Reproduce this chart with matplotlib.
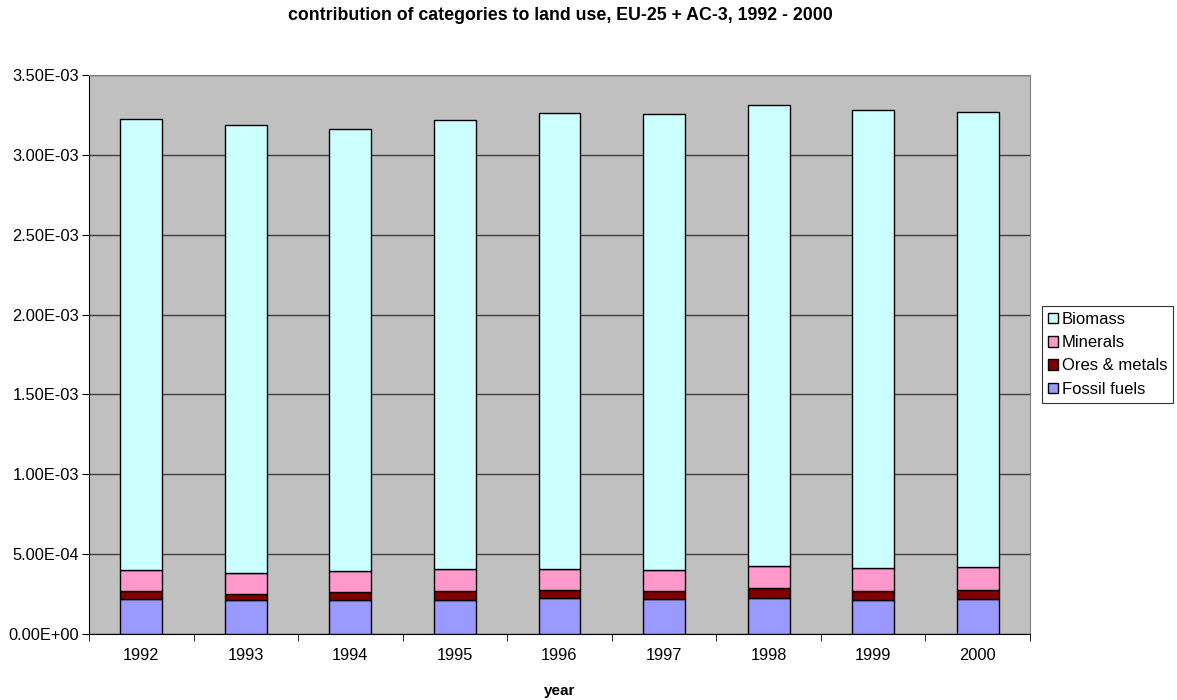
import matplotlib.pyplot as plt
import numpy as np
from matplotlib.ticker import FuncFormatter, MultipleLocator

plt.rcParams['font.family'] = ['Liberation Sans', 'DejaVu Sans']

years = ['1992', '1993', '1994', '1995', '1996', '1997', '1998', '1999', '2000']
fossil = [2.17e-4, 2.11e-4, 2.11e-4, 2.13e-4, 2.25e-4, 2.17e-4, 2.23e-4, 2.13e-4, 2.17e-4]
ores = [0.50e-4, 0.41e-4, 0.50e-4, 0.56e-4, 0.53e-4, 0.52e-4, 0.63e-4, 0.56e-4, 0.58e-4]
minerals = [1.32e-4, 1.28e-4, 1.35e-4, 1.36e-4, 1.29e-4, 1.32e-4, 1.40e-4, 1.44e-4, 1.46e-4]
biomass = [2.826e-3, 2.807e-3, 2.766e-3, 2.815e-3, 2.857e-3, 2.855e-3, 2.886e-3, 2.870e-3, 2.847e-3]

series = [('Fossil fuels', fossil, '#9999FF'),
          ('Ores & metals', ores, '#800000'),
          ('Minerals', minerals, '#FF99CC'),
          ('Biomass', biomass, '#CCFFFF')]

fig = plt.figure(figsize=(11.77, 7.0), dpi=100)
ax = fig.add_axes([89/1177, 1 - 634/700, (1030 - 89)/1177, (634 - 75)/700])
ax.set_facecolor('#C0C0C0')

x = np.arange(len(years))
bottom = np.zeros(len(years))
handles = {}
for name, vals, col in series:
    b = ax.bar(x, vals, 0.4, bottom=bottom, color=col, edgecolor='black',
               linewidth=1.0, label=name, zorder=3)
    handles[name] = b
    bottom += np.array(vals)

ax.set_xlim(-0.5, len(years) - 0.5)
ax.set_ylim(0, 3.5e-3)
ax.yaxis.set_major_locator(MultipleLocator(5e-4))
ax.yaxis.set_major_formatter(FuncFormatter(lambda v, p: '%.2E' % v))
ax.grid(axis='y', color='#404040', linewidth=1.0, zorder=1)

ax.set_xticks(x)
ax.set_xticklabels(years)
ax.set_xticks(np.arange(len(years) + 1) - 0.5, minor=True)
ax.tick_params(axis='x', which='major', length=0, pad=10, labelsize=11.8)
ax.tick_params(axis='x', which='minor', length=5, direction='out')
ax.tick_params(axis='y', length=5, direction='out', labelsize=11.8, pad=2)

for s in ['top', 'right']:
    ax.spines[s].set_color('#808080')
for s in ['left', 'bottom']:
    ax.spines[s].set_color('black')

ax.set_xlabel('year', fontweight='bold', fontsize=11, labelpad=15)
fig.text(560/1177, 1 - 15/700, 'contribution of categories to land use, EU-25 + AC-3, 1992 - 2000',
         ha='center', va='center', fontweight='bold', fontsize=12.8)

order = ['Biomass', 'Minerals', 'Ores & metals', 'Fossil fuels']
leg = fig.legend([handles[n] for n in order], order, loc='upper left',
                 bbox_to_anchor=(1042/1177, 1 - 306/700), fontsize=12,
                 frameon=True, fancybox=False, edgecolor='black',
                 handlelength=0.6, handleheight=0.6, handletextpad=0.25,
                 borderpad=0.35, labelspacing=0.5, borderaxespad=0)
leg.get_frame().set_linewidth(0.8)

fig.savefig('out.png', dpi=100)
